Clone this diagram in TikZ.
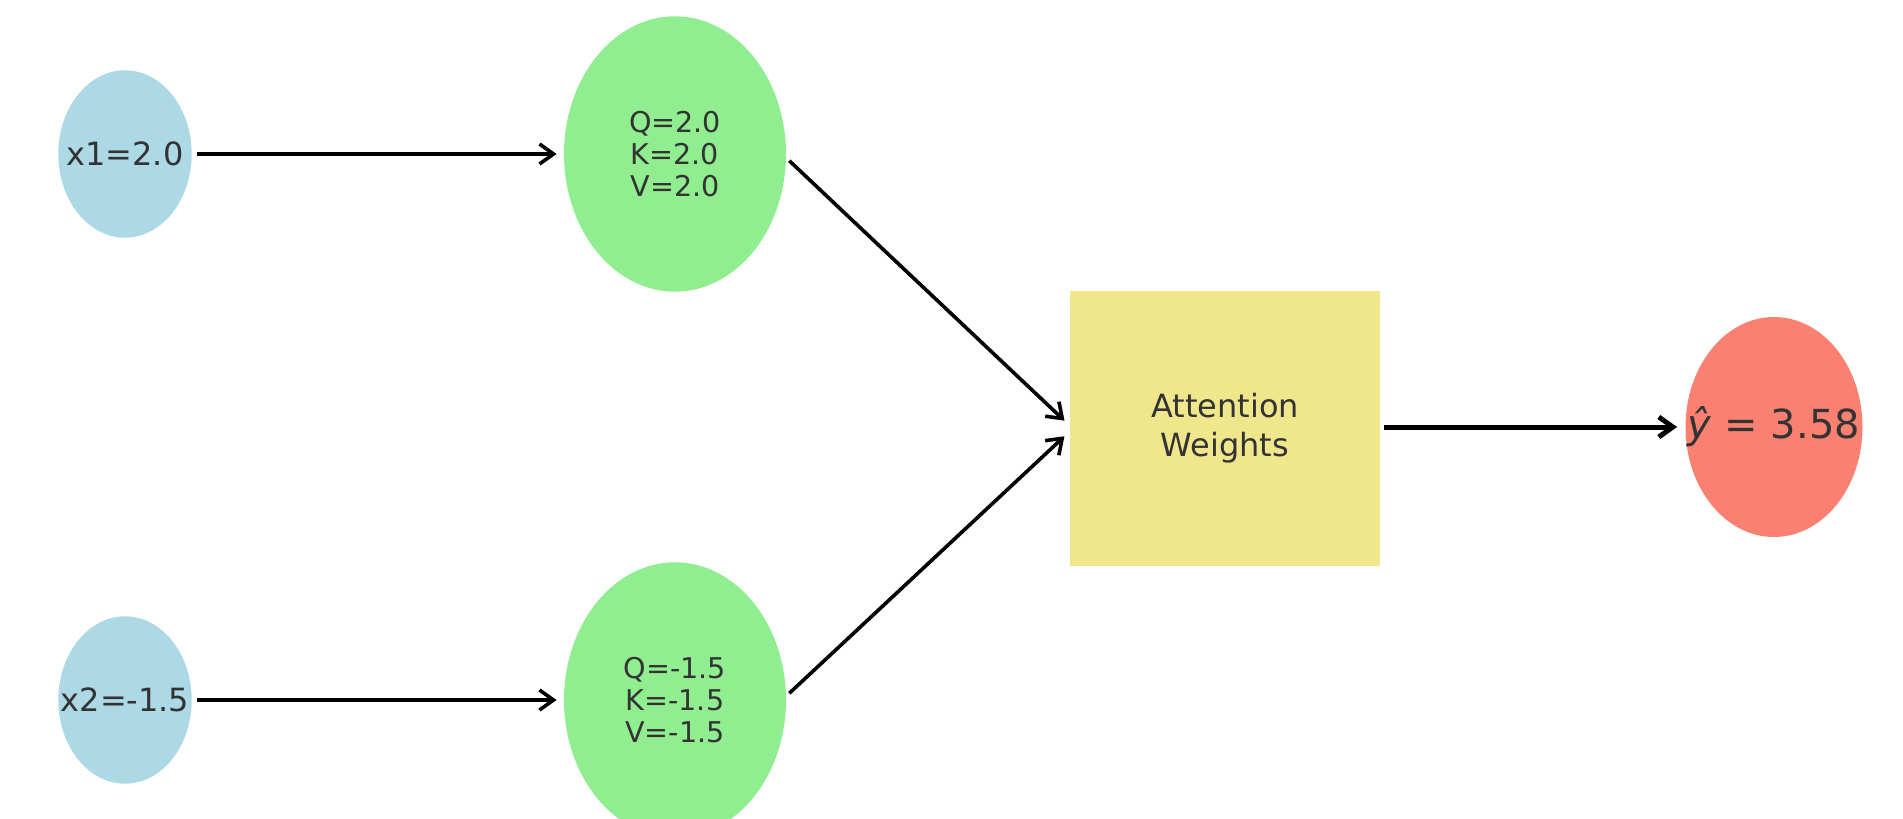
\documentclass[tikz,border=0pt]{standalone}
\usepackage{fontspec}
\setmainfont{DejaVu Sans}
\usetikzlibrary{shapes.geometric,arrows.meta}
\definecolor{inblue}{HTML}{ADD8E6}
\definecolor{qgreen}{HTML}{90EE90}
\definecolor{attkhaki}{HTML}{F0E68C}
\definecolor{outsalmon}{HTML}{FA8072}
\definecolor{txtgray}{HTML}{333333}
\begin{document}
\begin{tikzpicture}[x=0.5pt,y=-0.5pt,
  inode/.style={ellipse,fill=inblue,draw=none,inner sep=0pt,minimum width=66.7pt,minimum height=83.7pt},
  qnode/.style={ellipse,fill=qgreen,draw=none,inner sep=0pt,minimum width=111pt,minimum height=137.7pt},
  attbox/.style={rectangle,fill=attkhaki,draw=none,inner sep=0pt,minimum width=155pt,minimum height=137.5pt},
  onode/.style={ellipse,fill=outsalmon,draw=none,inner sep=0pt,minimum width=88.5pt,minimum height=110pt},
  txt/.style={text=txtgray,align=center,inner sep=0pt},
  bigtxt/.style={txt,font=\fontsize{16}{19.5}\selectfont},
  qtxt/.style={txt,font=\fontsize{14.3}{16}\selectfont},
  ytxt/.style={txt,font=\fontsize{20}{24}\selectfont},
  conn/.style={draw=black,line width=1.8pt,-{Straight Barb[length=7pt,width=10pt,line width=1.8pt]},shorten <=2.5pt,shorten >=3.5pt},
  thickconn/.style={draw=black,line width=2.5pt,-{Straight Barb[length=7pt,width=10pt,line width=2.5pt]},shorten <=2pt,shorten >=4pt}
]
\useasboundingbox (0,0) rectangle (1903,819);
\node[inode] (x1) at (125,154) {};
\node[inode] (x2) at (125,700) {};
\node[qnode] (q1) at (675,154) {};
\node[qnode] (q2) at (675,700) {};
\node[attbox] (att) at (1225,428.5) {};
\node[onode] (yh) at (1774,427) {};

\node[bigtxt] (x1t) at (x1) {x1=2.0};
\node[bigtxt] (x2t) at (x2) {x2=-1.5};
\node[qtxt] (q1t) at (q1) {Q=2.0\\K=2.0\\V=2.0};
\node[qtxt] (q2t) at (q2) {Q=-1.5\\K=-1.5\\V=-1.5};
\node[bigtxt] (attt) at (att) {Attention\\Weights};
\node[ytxt] (yht) at (yh) {\textit{ŷ} = 3.58};

\draw[conn] (x1) -- (q1);
\draw[conn] (x2) -- (q2);
\draw[conn,shorten <=2pt,shorten >=3.5pt] ([yshift=-2pt]q1.east) -- ([yshift=1.5pt]att.west);
\draw[conn,shorten <=2pt,shorten >=3.5pt] ([yshift=2pt]q2.east) -- ([yshift=-1.5pt]att.west);
\draw[thickconn] (att.east |- yh.west) -- (yh.west);
\end{tikzpicture}
\end{document}
